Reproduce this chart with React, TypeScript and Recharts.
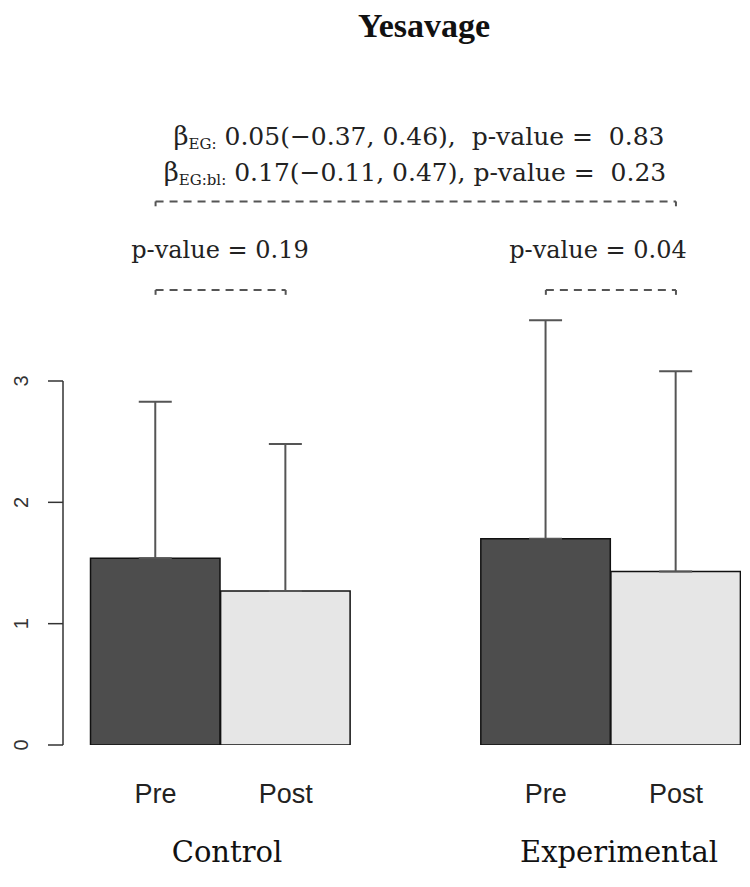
import React from 'react';
import { BarChart, Bar, Cell, XAxis, YAxis, ErrorBar, ReferenceLine } from 'recharts';

// ---- data ----
const phases = ['Pre', 'Post', 'Pre', 'Post'];
const groups = ['Control', 'Experimental'];
const positions = [1, 2, 4, 5];
const means = [1.54, 1.27, 1.7, 1.43];
const upperSD = [1.29, 1.21, 1.8, 1.65];
const yTicks = [0, 1, 2, 3];

const title = 'Yesavage';
const betaLines = [
  { sub: 'EG:', text: ' 0.05(−0.37, 0.46),  p-value =  0.83' },
  { sub: 'EG:bl:', text: ' 0.17(−0.11, 0.47), p-value =  0.23' },
];
const groupPValues = ['p-value = 0.19', 'p-value = 0.04'];

// bracket specs (x in data positions, y in data units)
const overallBracket = { from: 1, to: 5, y: 4.48 };
const groupBrackets = [
  { from: 1, to: 2, y: 3.75 },
  { from: 4, to: 5, y: 3.75 },
];
const bracketDrop = 0.04;

const phaseColors: Record<string, string> = { Pre: '#4d4d4d', Post: '#e6e6e6' };

const data = positions.map((p, i) => ({
  x: p,
  phase: phases[i],
  mean: means[i],
  err: [0, upperSD[i]],
}));

const xDomain: [number, number] = [0.2885, 5.5];

const XTick = (props: any) => {
  const { x, y, payload } = props;
  const idx = positions.indexOf(payload.value);
  return (
    <text
      x={x}
      y={y + 58}
      textAnchor="middle"
      fontFamily="'Liberation Sans', Arial, sans-serif"
      fontSize={27}
      fill="#222"
    >
      {phases[idx]}
    </text>
  );
};

const YTick = (props: any) => {
  const { x, y, payload } = props;
  const cx = x - 25;
  return (
    <text
      x={cx}
      y={y}
      transform={`rotate(-90, ${cx}, ${y})`}
      textAnchor="middle"
      dominantBaseline="central"
      fontFamily="'Liberation Sans', Arial, sans-serif"
      fontSize={20}
      fill="#333"
    >
      {payload.value}
    </text>
  );
};

const bracketStroke = '#555';

function bracketLines(b: { from: number; to: number; y: number }, key: string) {
  return [
    <ReferenceLine
      key={key + 'h'}
      segment={[{ x: b.from, y: b.y }, { x: b.to, y: b.y }]}
      stroke={bracketStroke}
      strokeWidth={2}
      strokeDasharray="8 6"
      ifOverflow="visible"
    />,
    <ReferenceLine
      key={key + 'l'}
      segment={[{ x: b.from, y: b.y }, { x: b.from, y: b.y - bracketDrop }]}
      stroke={bracketStroke}
      strokeWidth={2}
      ifOverflow="visible"
    />,
    <ReferenceLine
      key={key + 'r'}
      segment={[{ x: b.to, y: b.y }, { x: b.to, y: b.y - bracketDrop }]}
      stroke={bracketStroke}
      strokeWidth={2}
      ifOverflow="visible"
    />,
  ];
}

const serif = "'DejaVu Serif', serif";

export default function App() {
  return (
    <div style={{ position: 'absolute', left: 0, top: 0, width: 750, height: 887, background: '#fff' }}>
      <BarChart
        width={750}
        height={887}
        data={data}
        margin={{ top: 17, right: 9, bottom: 0, left: 0 }}
      >
        <XAxis
          dataKey="x"
          type="number"
          domain={xDomain}
          allowDataOverflow
          ticks={positions}
          axisLine={false}
          tickLine={false}
          tickSize={0}
          tickMargin={0}
          height={142}
          tick={XTick}
          interval={0}
        />
        <YAxis
          type="number"
          domain={[0, 6]}
          allowDataOverflow
          ticks={yTicks}
          width={63}
          axisLine={false}
          tickLine={{ stroke: '#333', strokeWidth: 1.5 }}
          tickSize={15}
          tickMargin={2}
          tick={YTick}
          interval={0}
        />
        <ReferenceLine
          segment={[{ x: xDomain[0], y: yTicks[0] }, { x: xDomain[0], y: yTicks[yTicks.length - 1] }]}
          stroke="#333"
          strokeWidth={1.5}
          ifOverflow="visible"
        />
        <Bar dataKey="mean" barSize={129.5} stroke="#111" strokeWidth={1.5} isAnimationActive={false}>
          {data.map((d, i) => (
            <Cell key={i} fill={phaseColors[d.phase]} />
          ))}
          <ErrorBar dataKey="err" direction="y" width={16.5} stroke="#555" strokeWidth={2} isAnimationActive={false} />
        </Bar>
        {bracketLines(overallBracket, 'o')}
        {groupBrackets.map((b, i) => bracketLines(b, 'g' + i))}
      </BarChart>
      <svg
        width={750}
        height={887}
        style={{ position: 'absolute', left: 0, top: 0, pointerEvents: 'none' }}
      >
        <text x={424} y={37} textAnchor="middle" fontFamily="'Liberation Serif', serif" fontWeight="bold" fontSize={34} fill="#111">
          {title}
        </text>
        {betaLines.map((l, i) => (
          <text
            key={i}
            x={i === 0 ? 419 : 415}
            y={145 + i * 36}
            textAnchor="middle"
            fontFamily={serif}
            fontSize={25}
            fill="#222"
            style={{ whiteSpace: 'pre' }}
          >
            <tspan fontSize={26}>β</tspan>
            <tspan fontSize={15} dy={4}>{l.sub}</tspan>
            <tspan dy={-4}>{l.text}</tspan>
          </text>
        ))}
        {groupPValues.map((t, i) => (
          <text key={i} x={i === 0 ? 220 : 598} y={258} textAnchor="middle" fontFamily={serif} fontSize={24} fill="#222">
            {t}
          </text>
        ))}
        {groups.map((g, i) => (
          <text key={g} x={i === 0 ? 227 : 619} y={862} textAnchor="middle" fontFamily={serif} fontSize={29} fill="#111">
            {g}
          </text>
        ))}
      </svg>
    </div>
  );
}
